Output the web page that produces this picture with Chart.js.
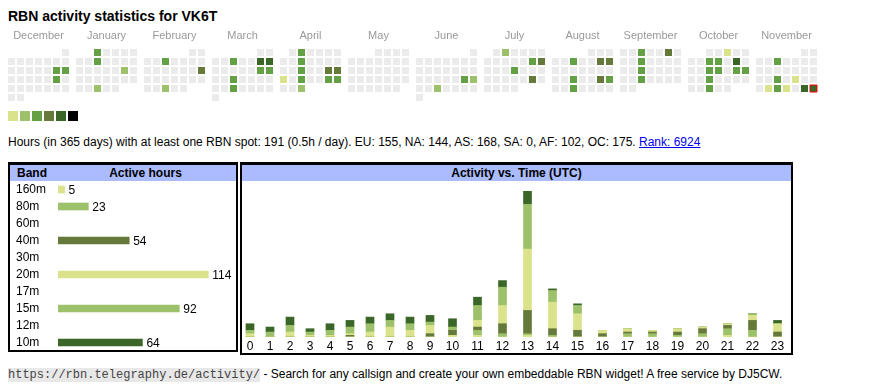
<!DOCTYPE html>
<html>
<head>
<meta charset="utf-8">
<script src="https://cdn.jsdelivr.net/npm/chart.js@4.4.1/dist/chart.umd.min.js"></script>
<style>
	body { margin: 0; background: #fff; font-family: 'Liberation Sans', Arial, sans-serif; color: #000; }
	.abs { position: absolute; }
	#title { left: 8px; top: 8px; font-size: 14px; font-weight: bold; line-height: 16px; white-space: nowrap; }
	.swatch { position: absolute; top: 111px; width: 10px; height: 10px; }
	#summary { left: 8px; top: 135px; font-size: 12px; line-height: 14px; white-space: nowrap; }
	#summary a { color: #00e; }
	.box { position: absolute; box-sizing: border-box; border: 2px solid #000; border-top-width: 3px; }
	.head { position: absolute; background: #abbbff; height: 16px; font-size: 12px; font-weight: bold; line-height: 16px; white-space: nowrap; }
	#footer { left: 8px; top: 367px; font-size: 12px; line-height: 14px; white-space: nowrap; }
	#footer code { font-family: 'Liberation Mono', monospace; font-size: 12px; background: #e8e8e8; color: #444; }
</style>
</head>
<body>
<div id="title" class="abs">RBN activity statistics for VK6T</div>
<canvas id="heatmap" class="abs" style="left:0;top:25px" width="870" height="80"></canvas>
<div id="legend"></div>
<div id="summary" class="abs">Hours (in 365 days) with at least one RBN spot: 191 (0.5h / day). EU: 155, NA: 144, AS: 168, SA: 0, AF: 102, OC: 175. <a href="#">Rank: 6924</a></div>

<div class="box" style="left:8px;top:162px;width:230px;height:190px"></div>
<div class="head" style="left:10px;top:165px;width:226px">
	<span class="abs" style="left:7px">Band</span>
	<span class="abs" style="left:45px;width:181px;text-align:center">Active hours</span>
</div>
<canvas id="bandChart" class="abs" style="left:10px;top:181px" width="226" height="170"></canvas>

<div class="box" style="left:240px;top:162px;width:553px;height:193px"></div>
<div class="head" style="left:242px;top:165px;width:549px;text-align:center">Activity vs. Time (UTC)</div>
<canvas id="hourChart" class="abs" style="left:240px;top:181px" width="550" height="172"></canvas>

<div id="footer" class="abs"><code>https://rbn.telegraphy.de/activity/</code> - Search for any callsign and create your own embeddable RBN widget! A free service by DJ5CW.</div>

<script>
// heatmap: Dec 2024 .. Nov 2025, one block per month (7 weekday columns, week rows)
const months = ['December', 'January', 'February', 'March', 'April', 'May', 'June', 'July', 'August', 'September', 'October', 'November'];
const firstYear = 2024;
const firstMonth = 11;
const today = '2025-11-30';

// days with activity and their level (1..6)
const activeDays = [
	'2024-12-14', '2024-12-15', '2024-12-21',
	'2025-01-01', '2025-01-08', '2025-01-18', '2025-01-29',
	'2025-02-05', '2025-02-16', '2025-02-26',
	'2025-03-05', '2025-03-08', '2025-03-09', '2025-03-15', '2025-03-16', '2025-03-19', '2025-03-26',
	'2025-04-02', '2025-04-09', '2025-04-16', '2025-04-19', '2025-04-20', '2025-04-21', '2025-04-23', '2025-04-26', '2025-04-27', '2025-04-30',
	'2025-06-21', '2025-06-22', '2025-06-25',
	'2025-07-02', '2025-07-12', '2025-07-13', '2025-07-17', '2025-07-26',
	'2025-08-06', '2025-08-09', '2025-08-10', '2025-08-20', '2025-08-23', '2025-08-24', '2025-08-27',
	'2025-09-03', '2025-09-06', '2025-09-10', '2025-09-17', '2025-09-24',
	'2025-10-03', '2025-10-08', '2025-10-09', '2025-10-11', '2025-10-15', '2025-10-16', '2025-10-18', '2025-10-19', '2025-10-22', '2025-10-29',
	'2025-11-05', '2025-11-19', '2025-11-21', '2025-11-25', '2025-11-26', '2025-11-27', '2025-11-29', '2025-11-30',
];
const activeLevels = [
	3, 3, 3,
	3, 3, 2, 2,
	3, 4, 2,
	3, 5, 5, 3, 3, 3, 3,
	3, 3, 3, 4, 4, 1, 3, 3, 3, 2,
	3, 2, 2,
	2, 3, 4, 3, 4,
	3, 4, 4, 3, 4, 3, 3,
	3, 4, 3, 3, 3,
	1, 3, 3, 5, 3, 3, 3, 3, 3, 3,
	3, 3, 1, 1, 3, 1, 5, 5,
];
const levelColors = ['#ebebeb', '#dbe28c', '#9cc16a', '#64a044', '#64793a', '#3a6627', '#000000'];

// band table
const bands = ['160m', '80m', '60m', '40m', '30m', '20m', '17m', '15m', '12m', '10m'];
const bandHours = [5, 23, 0, 54, 0, 114, 0, 92, 0, 64];
const bandColors = ['#dbe28c', '#9cc16a', '#64a044', '#64793a', '#3a6627', '#dbe28c', '#64a044', '#9cc16a', '#64793a', '#3a6627'];

// activity per UTC hour, split by band (stacked bottom to top)
const hours = ['0', '1', '2', '3', '4', '5', '6', '7', '8', '9', '10', '11', '12', '13', '14', '15', '16', '17', '18', '19', '20', '21', '22', '23'];
const hourly160m = [0, 0, 0, 0, 0, 0, 0, 0, 0, 0, 1, 1, 0, 1, 0, 0, 0, 0, 0, 0, 0, 1, 0, 0];
const hourly80m = [0, 0, 0, 0, 0, 0, 0, 0, 0, 0, 0, 3, 2, 1, 1, 0, 0, 2, 2, 1, 2, 4, 4, 0];
const hourly40m = [0, 0, 0, 0, 0, 1, 0, 0, 0, 2, 3, 2, 6, 14, 4, 4, 2, 1, 1, 2, 3, 2, 6, 3];
const hourly20m = [2, 0, 3, 1, 1, 1, 3, 6, 4, 5, 0, 4, 11, 37, 16, 10, 2, 2, 1, 2, 1, 1, 3, 5];
const hourly15m = [2, 3, 4, 2, 3, 4, 5, 4, 4, 2, 2, 9, 11, 27, 7, 5, 0, 0, 0, 0, 0, 0, 1, 0];
const hourly10m = [4, 3, 5, 2, 4, 4, 4, 4, 4, 4, 5, 5, 4, 8, 1, 1, 0, 0, 0, 0, 0, 0, 0, 2];

Chart.defaults.font.family = "'Liberation Sans', Arial, sans-serif";
Chart.defaults.font.size = 12;
Chart.defaults.color = '#000';

// ---------- heatmap ----------
const PITCH = 9;
const CELL = 7;
const MONTH_GAP = 5;
const monthStride = (7 * PITCH + MONTH_GAP) / PITCH;
const hmEl = document.getElementById('heatmap');
const hmLeft = 8;
const hmTop = 24;

let pad = (n) => String(n).padStart(2, '0');
let levelByDay = {};
activeDays.forEach((d, i) => { levelByDay[d] = activeLevels[i]; });

let cells = [];
let cellColors = [];
let cellBorders = [];
months.forEach((name, m) => {
	let year = firstYear + Math.floor((firstMonth + m) / 12);
	let mon = (firstMonth + m) % 12;
	let days = new Date(Date.UTC(year, mon + 1, 0)).getUTCDate();
	let startCol = (new Date(Date.UTC(year, mon, 1)).getUTCDay() + 6) % 7;
	for (let d = 1; d <= days; d++) {
		let pos = startCol + d - 1;
		let key = `${year}-${pad(mon + 1)}-${pad(d)}`;
		cells.push({ x: m * monthStride + pos % 7, y: Math.floor(pos / 7) });
		cellColors.push(levelColors[levelByDay[key] || 0]);
		cellBorders.push(key === today ? 1 : 0);
	}
});

let monthLabels = {
	id: 'monthLabels',
	afterDraw (chart) {
		let { ctx, scales } = chart;
		ctx.save();
		ctx.font = "11px 'Liberation Sans', Arial, sans-serif";
		ctx.fillStyle = '#999';
		ctx.textAlign = 'center';
		ctx.textBaseline = 'alphabetic';
		months.forEach((name, m) => {
			ctx.fillText(name, scales.x.getPixelForValue(m * monthStride + 3), 14);
		});
		ctx.restore();
	},
};

let hmXMin = -(hmLeft + CELL / 2) / PITCH;
let hmYMin = -(hmTop + CELL / 2) / PITCH;

new Chart(hmEl, {
	type: 'scatter',
	data: {
		datasets: [{
			data: cells,
			pointStyle: 'rect',
			pointRadius: CELL / Math.SQRT2,
			pointHoverRadius: CELL / Math.SQRT2,
			backgroundColor: cellColors,
			borderColor: '#ff0000',
			borderWidth: cellBorders,
			clip: false,
		}],
	},
	options: {
		responsive: false,
		animation: false,
		events: [],
		layout: { padding: 0, autoPadding: false },
		plugins: { legend: { display: false }, tooltip: { enabled: false } },
		scales: {
			x: { type: 'linear', display: false, min: hmXMin, max: hmXMin + hmEl.width / PITCH },
			y: { type: 'linear', display: false, reverse: true, min: hmYMin, max: hmYMin + hmEl.height / PITCH },
		},
	},
	plugins: [ monthLabels ],
});

// legend swatches
let legendEl = document.getElementById('legend');
levelColors.slice(1).forEach((c, i) => {
	let sw = document.createElement('div');
	sw.className = 'swatch';
	sw.style.left = (8 + i * 12) + 'px';
	sw.style.background = c;
	legendEl.appendChild(sw);
});

// ---------- band bars ----------
let valueLabels = {
	id: 'valueLabels',
	afterDatasetsDraw (chart) {
		let { ctx } = chart;
		let meta = chart.getDatasetMeta(0);
		ctx.save();
		ctx.font = "12px 'Liberation Sans', Arial, sans-serif";
		ctx.fillStyle = '#000';
		ctx.textAlign = 'left';
		ctx.textBaseline = 'middle';
		meta.data.forEach((bar, i) => {
			if (!bandHours[i]) { return; }
			ctx.fillText(String(bandHours[i]), bar.x + 4, bar.y + 1);
		});
		ctx.restore();
	},
};

new Chart(document.getElementById('bandChart'), {
	type: 'bar',
	data: {
		labels: bands,
		datasets: [{ data: bandHours.map(v => v || null), backgroundColor: bandColors, barThickness: 7 }],
	},
	options: {
		indexAxis: 'y',
		responsive: false,
		animation: false,
		events: [],
		layout: { padding: { left: 6, right: 0, top: 0, bottom: 0 }, autoPadding: false },
		plugins: { legend: { display: false }, tooltip: { enabled: false } },
		scales: {
			x: { display: false, min: 0, max: 135 },
			y: {
				grid: { display: false, drawTicks: false },
				border: { display: false },
				ticks: { crossAlign: 'far', autoSkip: false, padding: 0, font: { size: 12 }, color: '#000' },
				// rows fill the whole height, no extra room for the first/last label
				afterFit (scale) {
					scale.width = 42;
					scale.paddingTop = 0;
					scale.paddingBottom = 0;
				},
			},
		},
	},
	plugins: [ valueLabels ],
});

// ---------- activity vs time ----------
// column widths follow the label width (one or two digits)
let colWidths = hours.map(h => h.length === 1 ? 20 : 25);
let hourCenters = colWidths.map((w, i) => colWidths.slice(0, i).reduce((a, b) => a + b, 0) + w / 2);
let totalWidth = colWidths.reduce((a, b) => a + b, 0);

let hourSeries = [
	{ label: '160m', data: hourly160m, color: '#dbe28c' },
	{ label: '80m', data: hourly80m, color: '#9cc16a' },
	{ label: '40m', data: hourly40m, color: '#64793a' },
	{ label: '20m', data: hourly20m, color: '#dbe28c' },
	{ label: '15m', data: hourly15m, color: '#9cc16a' },
	{ label: '10m', data: hourly10m, color: '#3a6627' },
];
let stackMax = Math.max(...hours.map((h, i) => hourSeries.reduce((s, ser) => s + ser.data[i], 0)));

new Chart(document.getElementById('hourChart'), {
	type: 'bar',
	data: {
		datasets: hourSeries.map(ser => ({
			label: ser.label,
			data: ser.data.map((v, i) => ({ x: hourCenters[i], y: v })),
			backgroundColor: ser.color,
			barThickness: 8,
			borderWidth: 0,
		})),
	},
	options: {
		responsive: false,
		animation: false,
		events: [],
		layout: { padding: { top: 10, left: 0, right: 0, bottom: 0 }, autoPadding: false },
		plugins: { legend: { display: false }, tooltip: { enabled: false } },
		scales: {
			x: {
				type: 'linear',
				stacked: true,
				offset: false,
				min: 0,
				max: totalWidth,
				grid: { display: false, drawTicks: false },
				border: { display: false },
				afterBuildTicks (axis) { axis.ticks = hourCenters.map(v => ({ value: v })); },
				afterFit (axis) { axis.height = 16; },
				ticks: {
					autoSkip: false,
					maxRotation: 0,
					padding: 2,
					font: { size: 12 },
					color: '#000',
					callback: (value, index) => hours[index],
				},
			},
			y: { display: false, stacked: true, min: 0, max: stackMax },
		},
	},
});
</script>
</body>
</html>
